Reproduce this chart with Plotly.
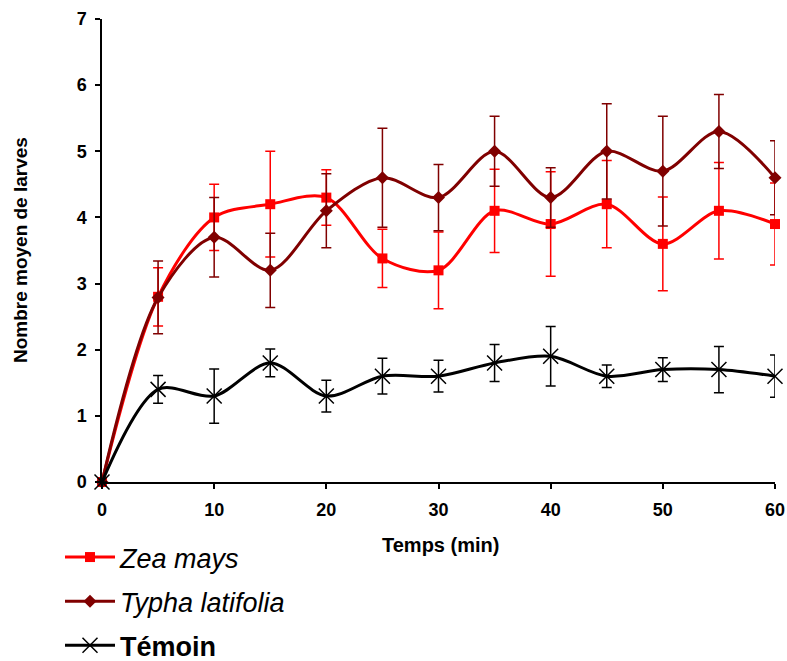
import plotly.graph_objects as go

temps = [0, 5, 10, 15, 20, 25, 30, 35, 40, 45, 50, 55, 60]

zea_mays = [0, 2.8, 4.0, 4.2, 4.3, 3.38, 3.2, 4.1, 3.9, 4.2, 3.6, 4.1, 3.9]
zea_err = [0, 0.44, 0.5, 0.8, 0.42, 0.44, 0.58, 0.63, 0.79, 0.66, 0.71, 0.73, 0.62]

typha = [0, 2.79, 3.7, 3.2, 4.1, 4.6, 4.3, 5.0, 4.3, 5.0, 4.7, 5.3, 4.6]
typha_err = [0, 0.55, 0.6, 0.56, 0.56, 0.75, 0.5, 0.53, 0.45, 0.72, 0.83, 0.56, 0.56]

temoin = [0, 1.4, 1.3, 1.8, 1.3, 1.6, 1.6, 1.8, 1.9, 1.6, 1.7, 1.7, 1.6]
temoin_err = [0, 0.21, 0.41, 0.21, 0.24, 0.27, 0.24, 0.28, 0.45, 0.17, 0.18, 0.35, 0.32]

x_ticks = [0, 10, 20, 30, 40, 50, 60]
y_ticks = [0, 1, 2, 3, 4, 5, 6, 7]

FONT = "Liberation Sans, Arial, sans-serif"
RED = "#FF0000"
DARKRED = "#800000"
W, H = 787, 661

fig = go.Figure()

fig.add_trace(go.Scatter(
    x=temps, y=zea_mays, name="<i>Zea mays</i>", mode="lines+markers",
    line=dict(color=RED, width=3, shape="spline", smoothing=0.9),
    marker=dict(symbol="square", size=10, color=RED),
    error_y=dict(type="data", array=zea_err, color=RED, thickness=1.5, width=5),
    cliponaxis=False, legendgroup="a",
))
fig.add_trace(go.Scatter(
    x=temps, y=typha, name="<i>Typha latifolia</i>", mode="lines+markers",
    line=dict(color=DARKRED, width=3, shape="spline", smoothing=0.9),
    marker=dict(symbol="diamond", size=10, color=DARKRED),
    error_y=dict(type="data", array=typha_err, color=DARKRED, thickness=1.5, width=5),
    cliponaxis=False, legendgroup="b",
))
fig.add_trace(go.Scatter(
    x=temps, y=temoin, name="<b>Témoin</b>", mode="lines+markers",
    line=dict(color="black", width=3, shape="spline", smoothing=0.9),
    marker=dict(symbol="x-thin", size=15, color="black", line=dict(color="black", width=1.5)),
    error_y=dict(type="data", array=temoin_err, color="black", thickness=1.5, width=5),
    cliponaxis=False, legendgroup="c",
))

fig.update_layout(
    width=W, height=H,
    margin=dict(l=102, r=12, t=19, b=179, autoexpand=False),
    paper_bgcolor="white", plot_bgcolor="white",
    font=dict(family=FONT, color="black"),
    showlegend=True,
    legend=dict(
        x=60 / W, y=1 - 533 / H, xref="container", yref="container",
        xanchor="left", yanchor="top",
        font=dict(family=FONT, size=27, color="black"),
        itemwidth=50, tracegroupgap=6, bgcolor="rgba(0,0,0,0)",
    ),
    xaxis=dict(
        range=[0, 60], tickvals=x_ticks, ticktext=[str(v) for v in x_ticks],
        showgrid=False, zeroline=False, showline=True, linecolor="black", linewidth=1.5,
        ticks="outside", ticklen=5, tickwidth=1.5, tickcolor="black",
        tickfont=dict(family=FONT, size=18, color="black", weight="bold"),
        ticklabelstandoff=6,
    ),
    yaxis=dict(
        range=[0, 7], tickvals=y_ticks, ticktext=[str(v) for v in y_ticks],
        showgrid=False, zeroline=False, showline=True, linecolor="black", linewidth=1.5,
        ticks="outside", ticklen=5, tickwidth=1.5, tickcolor="black",
        tickfont=dict(family=FONT, size=18, color="black", weight="bold"),
        ticklabelstandoff=5,
    ),
    annotations=[
        dict(text="<b>Temps (min)</b>", xref="paper", yref="paper", x=0.5025, y=-0.136,
             xanchor="center", yanchor="middle", showarrow=False,
             font=dict(family=FONT, size=20, color="black")),
        dict(text="<b>Nombre moyen de larves</b>", xref="paper", yref="paper", x=-0.121, y=0.5,
             xanchor="center", yanchor="middle", showarrow=False, textangle=-90,
             font=dict(family=FONT, size=19, color="black")),
    ],
)

fig.write_html("out.html", config={"displayModeBar": False},
               post_script="document.body.style.margin='0';")
